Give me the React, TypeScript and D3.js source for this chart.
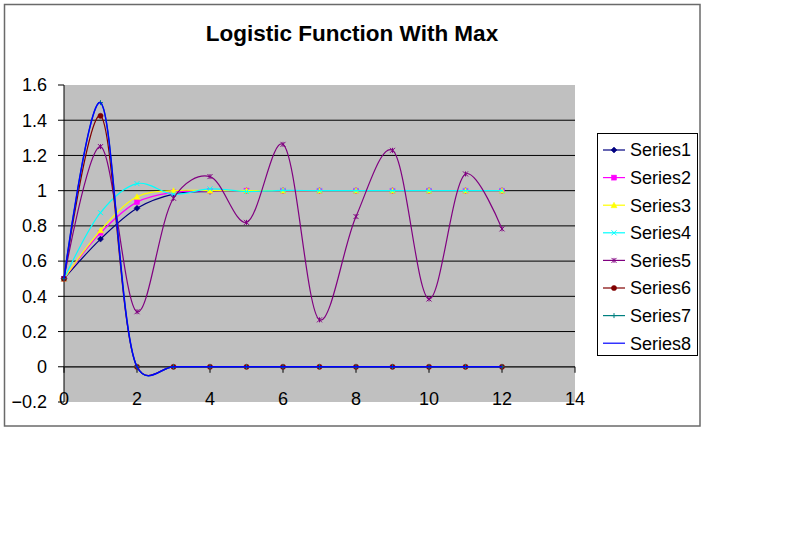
import React from "react";
import * as d3 from "d3";

const xValues = [0, 1, 2, 3, 4, 5, 6, 7, 8, 9, 10, 11, 12];
const series1 = [0.5, 0.725, 0.9, 0.98, 0.996, 1, 1, 1, 1, 1, 1, 1, 1];
const series2 = [0.5, 0.76, 0.935, 0.99, 0.999, 1, 1, 1, 1, 1, 1, 1, 1];
const series3 = [0.5, 0.775, 0.965, 1.0, 1, 1, 1, 1, 1, 1, 1, 1, 1];
const series4 = [0.5, 0.875, 1.04, 0.98, 1.01, 0.995, 1.002, 1, 1, 1, 1, 1, 1];
const series5 = [0.5, 1.25, 0.3125, 0.957, 1.08, 0.82, 1.263, 0.2665, 0.853, 1.229, 0.385, 1.095, 0.783];
const series6 = [0.5, 1.425, 0, 0, 0, 0, 0, 0, 0, 0, 0, 0, 0];
const series7 = [0.5, 1.5, 0, 0, 0, 0, 0, 0, 0, 0, 0, 0, 0];
const series8 = [0.5, 1.5, 0, 0, 0, 0, 0, 0, 0, 0, 0, 0, 0];
const seriesNames = ["Series1", "Series2", "Series3", "Series4", "Series5", "Series6", "Series7", "Series8"];
const seriesColors = ["#000080", "#FF00FF", "#FFFF00", "#00FFFF", "#800080", "#800000", "#008080", "#0000FF"];
const seriesMarkers = ["diamond", "square", "triangle", "x", "star", "circle", "plus", "none"];
const yTicks = [-0.2, 0, 0.2, 0.4, 0.6, 0.8, 1, 1.2, 1.4, 1.6];
const xTicks = [0, 2, 4, 6, 8, 10, 12, 14];
const gridValues = [0, 0.2, 0.4, 0.6, 0.8, 1, 1.2, 1.4];
const title = "Logistic Function With Max";

const allSeries = [series1, series2, series3, series4, series5, series6, series7, series8];

const FONT = "'Liberation Sans', Arial, sans-serif";

function Marker({ kind, cx, cy, color }: { kind: string; cx: number; cy: number; color: string }) {
  const s = 2.5;
  switch (kind) {
    case "diamond":
      return <path d={`M${cx},${cy - 3}L${cx + 3},${cy}L${cx},${cy + 3}L${cx - 3},${cy}Z`} fill={color} stroke={color} strokeWidth={0.5} />;
    case "square":
      return <rect x={cx - s} y={cy - s} width={2 * s} height={2 * s} fill={color} stroke={color} strokeWidth={0.5} />;
    case "triangle":
      return <path d={`M${cx},${cy - 3}L${cx + 3},${cy + 2.5}L${cx - 3},${cy + 2.5}Z`} fill={color} stroke={color} strokeWidth={0.5} />;
    case "x":
      return <path d={`M${cx - s},${cy - s}L${cx + s},${cy + s}M${cx - s},${cy + s}L${cx + s},${cy - s}`} stroke={color} strokeWidth={1} fill="none" />;
    case "star":
      return <path d={`M${cx - s},${cy - s}L${cx + s},${cy + s}M${cx - s},${cy + s}L${cx + s},${cy - s}M${cx},${cy - s}L${cx},${cy + s}`} stroke={color} strokeWidth={1} fill="none" />;
    case "circle":
      return <circle cx={cx} cy={cy} r={2.6} fill={color} stroke={color} strokeWidth={0.5} />;
    case "plus":
      return <path d={`M${cx - s},${cy}L${cx + s},${cy}M${cx},${cy - s}L${cx},${cy + s}`} stroke={color} strokeWidth={1} fill="none" />;
    default:
      return null;
  }
}

export default function App() {
  const width = 800;
  const height = 557;
  const x = d3.scaleLinear().domain([0, 14]).range([64, 575]);
  const y = d3.scaleLinear().domain([-0.2, 1.6]).range([402, 85]);

  const line = d3
    .line<number>()
    .x((_, i) => x(xValues[i]))
    .y((d) => y(d))
    .curve(d3.curveCatmullRom.alpha(0.25));

  const legendX = 597;
  const legendY = 133;
  const legendW = 100;
  const legendH = 222;
  const rowH = 27.6;

  return (
    <svg
      width={width}
      height={height}
      style={{ position: "absolute", left: 0, top: 0, background: "#fff" }}
      fontFamily={FONT}
    >
      <rect x={0} y={0} width={width} height={height} fill="#fff" />
      {/* chart area border */}
      <rect x={4.5} y={4.5} width={695.5} height={421.5} fill="#fff" stroke="#6a6a6a" strokeWidth={1.5} />
      <text x={352} y={41} textAnchor="middle" fontSize={22.5} fontWeight="bold" fill="#000">
        {title}
      </text>

      {/* plot area */}
      <rect x={x(0)} y={y(1.6)} width={x(14) - x(0)} height={y(-0.2) - y(1.6)} fill="#C0C0C0" />
      {gridValues.map((g) => (
        <line key={"g" + g} x1={x(0)} x2={x(14)} y1={y(g)} y2={y(g)} stroke="#000" strokeWidth={1} />
      ))}

      {/* y axis */}
      <line x1={x(0)} x2={x(0)} y1={y(1.6)} y2={y(-0.2)} stroke="#000" strokeWidth={1} />
      {yTicks.map((t) => (
        <g key={"yt" + t}>
          <line x1={x(0) - 6} x2={x(0)} y1={y(t)} y2={y(t)} stroke="#000" strokeWidth={1} />
          <text x={47} y={y(t)} dy="0.35em" textAnchor="end" fontSize={18} fill="#000">
            {d3.format("")(+t.toFixed(1))}
          </text>
        </g>
      ))}

      {/* x axis at y=0 */}
      <line x1={x(0)} x2={x(14)} y1={y(0)} y2={y(0)} stroke="#333" strokeWidth={1.2} />
      {xTicks.map((t) => (
        <g key={"xt" + t}>
          <line x1={x(t)} x2={x(t)} y1={y(0)} y2={y(0) + 6} stroke="#000" strokeWidth={1} />
          <text x={x(t)} y={405} textAnchor="middle" fontSize={18} fill="#000">
            {t}
          </text>
        </g>
      ))}

      {/* series */}
      {allSeries.map((s, si) => (
        <g key={"s" + si}>
          <path d={line(s) || ""} fill="none" stroke={seriesColors[si]} strokeWidth={si === 7 ? 1.5 : 1.2} />
          {s.map((v, i) => (
            <Marker key={i} kind={seriesMarkers[si]} cx={x(xValues[i])} cy={y(v)} color={seriesColors[si]} />
          ))}
        </g>
      ))}

      {/* legend */}
      <rect x={legendX + 0.5} y={legendY + 0.5} width={legendW} height={legendH} fill="#fff" stroke="#000" strokeWidth={1} />
      {seriesNames.map((n, i) => {
        const cy = legendY + 17 + i * rowH;
        return (
          <g key={"l" + n}>
            <line x1={603} x2={625} y1={cy} y2={cy} stroke={seriesColors[i]} strokeWidth={1.2} />
            <Marker kind={seriesMarkers[i]} cx={614} cy={cy} color={seriesColors[i]} />
            <text x={630} y={cy} dy="0.35em" fontSize={18} fill="#000">
              {n}
            </text>
          </g>
        );
      })}
    </svg>
  );
}
